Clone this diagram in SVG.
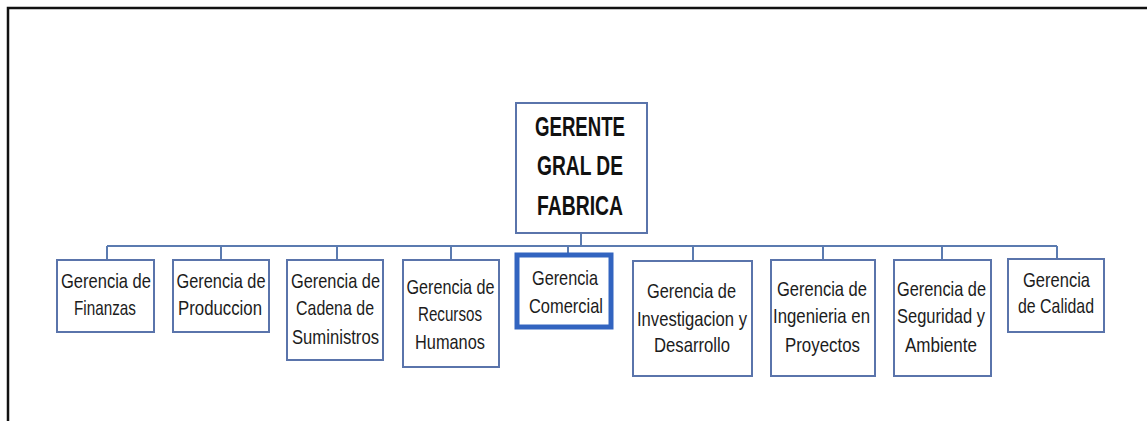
<svg xmlns="http://www.w3.org/2000/svg" width="1147" height="421" viewBox="0 0 1147 421">
<style>
.box{fill:#fff;stroke:#5a74ab;stroke-width:2}
.thick{fill:#fff;stroke:#3264c0;stroke-width:5}
.t{font-family:"Liberation Sans",Arial,sans-serif;font-size:21px;fill:#1c1c1c;text-anchor:middle}
.h{font-family:"Liberation Sans",Arial,sans-serif;font-size:27px;font-weight:bold;fill:#111;text-anchor:middle}
.c{fill:none;stroke:#5b7bb0;stroke-width:2}
</style>
<rect width="1147" height="421" fill="#fff"/>
<path d="M8,421 V8 H1147" fill="none" stroke="#111" stroke-width="2.5"/>
<g id="connectors">
<path class="c" d="M581,233 V246"/>
<path class="c" stroke-width="3" d="M107,246 H1057"/>
<path class="c" d="M107,246 V260 M221,246 V260 M337,246 V260 M451,246 V260 M568,246 V253 M693,246 V261 M823,246 V260 M942,246 V260 M1057,246 V259"/>
</g>
<g id="n0">
<rect class="box" x="516" y="103" width="131" height="130"/>
<text class="h" x="580" y="136" textLength="90" lengthAdjust="spacingAndGlyphs">GERENTE</text>
<text class="h" x="580" y="175" textLength="86" lengthAdjust="spacingAndGlyphs">GRAL DE</text>
<text class="h" x="580" y="215" textLength="86" lengthAdjust="spacingAndGlyphs">FABRICA</text>
</g>
<g id="n1">
<rect class="box" x="57" y="260" width="97" height="72"/>
<text class="t" x="106" y="288" textLength="90" lengthAdjust="spacingAndGlyphs">Gerencia de</text>
<text class="t" x="105" y="315" textLength="62" lengthAdjust="spacingAndGlyphs">Finanzas</text>
</g>
<g id="n2">
<rect class="box" x="173" y="260" width="96" height="72"/>
<text class="t" x="221" y="288" textLength="89" lengthAdjust="spacingAndGlyphs">Gerencia de</text>
<text class="t" x="220" y="315" textLength="84" lengthAdjust="spacingAndGlyphs">Produccion</text>
</g>
<g id="n3">
<rect class="box" x="287" y="260" width="96" height="100"/>
<text class="t" x="335.5" y="288" textLength="89" lengthAdjust="spacingAndGlyphs">Gerencia de</text>
<text class="t" x="335" y="315" textLength="78" lengthAdjust="spacingAndGlyphs">Cadena de</text>
<text class="t" x="335.5" y="344" textLength="87" lengthAdjust="spacingAndGlyphs">Suministros</text>
</g>
<g id="n4">
<rect class="box" x="403" y="260" width="96" height="107"/>
<text class="t" x="450.5" y="294" textLength="88" lengthAdjust="spacingAndGlyphs">Gerencia de</text>
<text class="t" x="450" y="321" textLength="64" lengthAdjust="spacingAndGlyphs">Recursos</text>
<text class="t" x="450" y="349" textLength="70" lengthAdjust="spacingAndGlyphs">Humanos</text>
</g>
<g id="n5">
<rect class="thick" x="517" y="255" width="94" height="72"/>
<text class="t" x="565" y="285" textLength="66" lengthAdjust="spacingAndGlyphs">Gerencia</text>
<text class="t" x="566" y="313" textLength="74" lengthAdjust="spacingAndGlyphs">Comercial</text>
</g>
<g id="n6">
<rect class="box" x="633" y="261" width="119" height="115"/>
<text class="t" x="691.5" y="298" textLength="89" lengthAdjust="spacingAndGlyphs">Gerencia de</text>
<text class="t" x="692" y="326" textLength="110" lengthAdjust="spacingAndGlyphs">Investigacion y</text>
<text class="t" x="692" y="352" textLength="76" lengthAdjust="spacingAndGlyphs">Desarrollo</text>
</g>
<g id="n7">
<rect class="box" x="771" y="260" width="104" height="116"/>
<text class="t" x="822" y="296" textLength="90" lengthAdjust="spacingAndGlyphs">Gerencia de</text>
<text class="t" x="821.5" y="323" textLength="97" lengthAdjust="spacingAndGlyphs">Ingenieria en</text>
<text class="t" x="822.5" y="352" textLength="75" lengthAdjust="spacingAndGlyphs">Proyectos</text>
</g>
<g id="n8">
<rect class="box" x="894" y="260" width="97" height="116"/>
<text class="t" x="941.5" y="296" textLength="89" lengthAdjust="spacingAndGlyphs">Gerencia de</text>
<text class="t" x="941" y="323" textLength="88" lengthAdjust="spacingAndGlyphs">Seguridad y</text>
<text class="t" x="941" y="352" textLength="72" lengthAdjust="spacingAndGlyphs">Ambiente</text>
</g>
<g id="n9">
<rect class="box" x="1008" y="259" width="96" height="73"/>
<text class="t" x="1056.5" y="287" textLength="67" lengthAdjust="spacingAndGlyphs">Gerencia</text>
<text class="t" x="1056" y="313" textLength="76" lengthAdjust="spacingAndGlyphs">de Calidad</text>
</g>
</svg>
